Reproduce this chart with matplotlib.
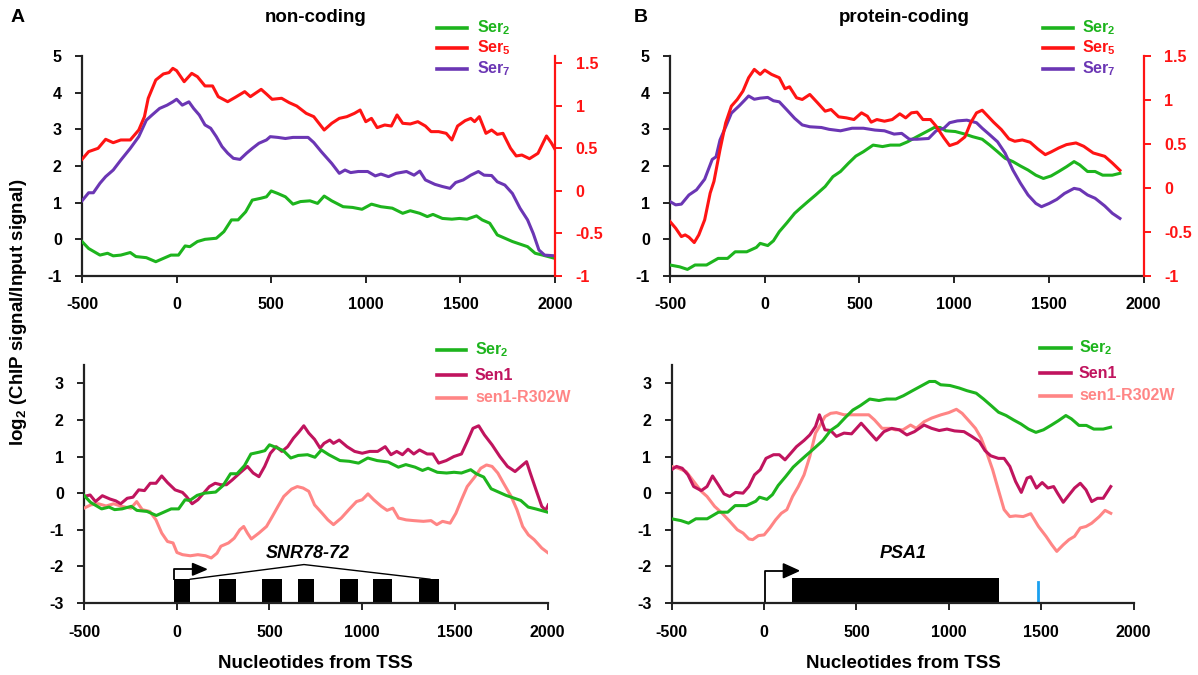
import numpy as np
import matplotlib
matplotlib.use("Agg")
import matplotlib.pyplot as plt
from matplotlib.lines import Line2D
from matplotlib.patches import Rectangle, Polygon

plt.rcParams['font.family'] = ['Liberation Sans', 'DejaVu Sans']
plt.rcParams['font.weight'] = 'bold'
plt.rcParams['mathtext.fontset'] = 'custom'
plt.rcParams['mathtext.rm'] = 'Liberation Sans:bold'
plt.rcParams['mathtext.it'] = 'Liberation Sans:bold'
plt.rcParams['mathtext.bf'] = 'Liberation Sans:bold'
plt.rcParams['mathtext.default'] = 'rm'
plt.rcParams['axes.unicode_minus'] = False

# ---- colours ----
GREEN = '#1db41d'
RED = '#ff1414'
PURPLE = '#6b36b4'
SEN1 = '#c0145e'
MUT = '#ff8585'
AXC = '#222222'

# ---- A: non-coding, top (Ser2 / Ser7 on left axis, Ser5 on right axis) ----
nc_ser2_x = [-500, -465, -405, -365, -335, -295, -245, -215, -160, -110, -70, -30, 10, 45, 70, 110, 150, 210,
             250, 290, 325, 365, 400, 445, 475, 500, 535, 575, 615, 655, 705, 745, 780, 820, 880, 930, 980,
             1030, 1080, 1140, 1195, 1235, 1285, 1325, 1355, 1405, 1455, 1495, 1535, 1585, 1615, 1655, 1695,
             1735, 1775, 1815, 1855, 1895, 1935, 2000]
nc_ser2_y = [-0.06, -0.25, -0.43, -0.38, -0.45, -0.43, -0.36, -0.47, -0.50, -0.61, -0.52, -0.43, -0.43, -0.18,
             -0.20, -0.06, 0.00, 0.03, 0.21, 0.53, 0.53, 0.75, 1.07, 1.12, 1.16, 1.32, 1.25, 1.16, 0.96, 1.03,
             1.05, 0.98, 1.18, 1.05, 0.89, 0.87, 0.82, 0.96, 0.89, 0.85, 0.71, 0.78, 0.71, 0.62, 0.68, 0.57,
             0.55, 0.57, 0.55, 0.64, 0.53, 0.44, 0.12, 0.03, -0.06, -0.13, -0.20, -0.38, -0.43, -0.52]

nc_ser7_x = [-500, -465, -440, -405, -375, -335, -295, -245, -200, -160, -130, -90, -50, -20, 0, 30, 65, 90,
             120, 150, 180, 210, 240, 270, 300, 335, 370, 400, 435, 475, 495, 535, 575, 615, 655, 695, 725,
             765, 820, 860, 890, 920, 960, 1010, 1050, 1080, 1120, 1160, 1215, 1255, 1285, 1315, 1365, 1405,
             1445, 1475, 1515, 1555, 1595, 1625, 1665, 1695, 1735, 1775, 1815, 1855, 1885, 1915, 1945, 2000]
nc_ser7_y = [1.05, 1.27, 1.27, 1.53, 1.71, 1.89, 2.16, 2.48, 2.80, 3.25, 3.39, 3.57, 3.66, 3.75, 3.82, 3.66,
             3.75, 3.57, 3.39, 3.12, 3.03, 2.80, 2.53, 2.35, 2.21, 2.18, 2.35, 2.48, 2.62, 2.71, 2.80, 2.78,
             2.75, 2.78, 2.78, 2.78, 2.64, 2.39, 2.07, 1.80, 1.89, 1.82, 1.85, 1.85, 1.73, 1.78, 1.71, 1.80,
             1.85, 1.75, 1.86, 1.62, 1.50, 1.44, 1.39, 1.55, 1.62, 1.75, 1.85, 1.75, 1.74, 1.57, 1.48, 1.25,
             0.85, 0.53, 0.16, -0.29, -0.43, -0.45]

nc_ser5_x = [-500, -465, -415, -375, -335, -295, -245, -200, -170, -150, -110, -70, -40, -20, 0, 40, 80, 110,
             150, 190, 220, 270, 310, 360, 390, 447, 475, 505, 555, 595, 635, 685, 725, 780, 820, 860, 900,
             940, 970, 1000, 1030, 1060, 1100, 1135, 1165, 1195, 1235, 1275, 1315, 1345, 1385, 1425, 1455,
             1485, 1525, 1555, 1575, 1600, 1635, 1665, 1695, 1725, 1765, 1795, 1825, 1865, 1910, 1940, 1955,
             1980, 2000]
nc_ser5_y = [0.371, 0.462, 0.501, 0.607, 0.567, 0.599, 0.599, 0.716, 0.873, 1.089, 1.304, 1.375, 1.391,
             1.441, 1.414, 1.284, 1.382, 1.343, 1.234, 1.234, 1.108, 1.049, 1.100, 1.167, 1.108, 1.194, 1.139,
             1.077, 1.089, 1.038, 0.998, 0.912, 0.873, 0.716, 0.795, 0.853, 0.873, 0.912, 0.951, 0.814, 0.853,
             0.744, 0.775, 0.763, 0.893, 0.795, 0.787, 0.814, 0.763, 0.697, 0.697, 0.677, 0.599, 0.763, 0.826,
             0.853, 0.814, 0.873, 0.677, 0.716, 0.665, 0.677, 0.501, 0.411, 0.422, 0.379, 0.442, 0.579, 0.646,
             0.567, 0.489]

# ---- B: protein-coding, top ----
pc_ser2_x = [-500, -449, -408, -368, -307, -246, -196, -156, -95, -44, -24, 16, 46, 77, 117, 158, 188, 228,
             269, 319, 360, 400, 441, 481, 521, 572, 622, 663, 713, 754, 804, 855, 895, 926, 956, 1006, 1057,
             1097, 1148, 1188, 1229, 1269, 1310, 1350, 1390, 1431, 1471, 1512, 1552, 1593, 1633, 1663, 1704,
             1744, 1784, 1835, 1875]
pc_ser2_y = [-0.70, -0.75, -0.82, -0.70, -0.70, -0.52, -0.52, -0.34, -0.34, -0.22, -0.11, -0.17, -0.04, 0.21,
             0.45, 0.71, 0.85, 1.03, 1.21, 1.44, 1.71, 1.85, 2.07, 2.27, 2.39, 2.57, 2.53, 2.57, 2.57, 2.66,
             2.80, 2.94, 3.05, 3.05, 2.96, 2.94, 2.87, 2.80, 2.73, 2.57, 2.39, 2.21, 2.12, 2.00, 1.89, 1.75,
             1.66, 1.73, 1.85, 1.98, 2.12, 2.03, 1.85, 1.85, 1.75, 1.75, 1.80]

pc_ser7_x = [-500, -470, -440, -400, -360, -317, -277, -257, -236, -206, -176, -135, -105, -85, -55, -24, 16,
             46, 77, 117, 158, 198, 238, 299, 340, 400, 461, 521, 582, 632, 683, 723, 764, 804, 865, 905, 946,
             976, 1017, 1067, 1118, 1148, 1188, 1229, 1269, 1310, 1350, 1390, 1431, 1461, 1502, 1542, 1582,
             1633, 1663, 1704, 1744, 1795, 1835, 1875]
pc_ser7_y = [1.03, 0.94, 0.96, 1.21, 1.35, 1.64, 2.18, 2.25, 2.71, 3.07, 3.44, 3.64, 3.80, 3.91, 3.82, 3.85,
             3.87, 3.78, 3.75, 3.53, 3.30, 3.12, 3.07, 3.05, 3.00, 2.96, 3.03, 3.03, 2.98, 2.96, 2.87, 2.89,
             2.73, 2.73, 2.75, 2.96, 3.03, 3.18, 3.23, 3.25, 3.18, 3.03, 2.85, 2.66, 2.35, 1.89, 1.53, 1.21,
             0.98, 0.89, 0.98, 1.09, 1.25, 1.39, 1.36, 1.21, 1.12, 0.91, 0.71, 0.57]

pc_ser5_x = [-500, -470, -440, -420, -400, -372, -348, -317, -288, -268, -236, -206, -176, -145, -115, -85,
             -55, -24, 0, 36, 77, 107, 131, 168, 198, 238, 279, 319, 350, 390, 431, 471, 511, 542, 562, 592,
             632, 673, 713, 744, 774, 804, 835, 875, 905, 946, 976, 1017, 1057, 1087, 1118, 1148, 1178, 1208,
             1249, 1289, 1320, 1360, 1401, 1441, 1481, 1512, 1552, 1593, 1643, 1684, 1734, 1795, 1835, 1875]
pc_ser5_y = [-0.381, -0.457, -0.552, -0.533, -0.559, -0.620, -0.533, -0.362, -0.058, 0.075, 0.436, 0.740,
             0.930, 1.006, 1.101, 1.253, 1.348, 1.291, 1.340, 1.291, 1.253, 1.128, 1.150, 1.025, 1.006, 1.063,
             0.968, 0.873, 0.892, 0.809, 0.797, 0.778, 0.854, 0.816, 0.748, 0.778, 0.759, 0.778, 0.843, 0.797,
             0.854, 0.862, 0.778, 0.778, 0.702, 0.569, 0.482, 0.512, 0.581, 0.740, 0.854, 0.884, 0.816, 0.748,
             0.664, 0.558, 0.531, 0.546, 0.520, 0.444, 0.379, 0.410, 0.455, 0.493, 0.512, 0.474, 0.398, 0.360,
             0.284, 0.201]

# ---- bottom panels: Sen1 and sen1-R302W ----
nc_sen1_x = [-500, -467, -438, -401, -360, -329, -302, -267, -236, -205, -174, -143, -112, -81, -50, -9, 31,
             52, 83, 114, 145, 176, 207, 238, 268, 299, 340, 381, 412, 443, 474, 505, 536, 567, 598, 629, 660,
             685, 712, 743, 773, 794, 825, 845, 876, 918, 959, 1000, 1041, 1083, 1124, 1155, 1186, 1217, 1247,
             1278, 1309, 1350, 1381, 1412, 1453, 1494, 1535, 1566, 1597, 1628, 1659, 1700, 1742, 1783, 1824,
             1865, 1886, 1906, 1937, 1968, 1989, 2003]
nc_sen1_y = [-0.09, -0.05, -0.23, -0.07, -0.16, -0.21, -0.29, -0.14, -0.11, 0.09, 0.07, 0.27, 0.27, 0.47,
             0.29, 0.09, 0.02, -0.09, -0.29, -0.18, 0.00, 0.18, 0.27, 0.23, 0.23, 0.36, 0.55, 0.73, 0.55, 0.45,
             0.73, 1.09, 1.27, 1.14, 1.27, 1.50, 1.68, 1.84, 1.64, 1.47, 1.23, 1.36, 1.45, 1.36, 1.45, 1.27,
             1.14, 1.09, 1.14, 1.14, 1.27, 1.05, 1.14, 1.05, 1.20, 1.07, 1.18, 1.07, 1.07, 0.82, 0.89, 1.00,
             1.07, 1.41, 1.77, 1.84, 1.59, 1.32, 1.00, 0.73, 0.59, 0.77, 0.86, 0.55, 0.09, -0.36, -0.47, -0.32]

nc_mut_x = [-500, -463, -422, -381, -340, -298, -247, -216, -186, -145, -112, -81, -50, -20, 1, 31, 73, 114,
            155, 186, 217, 238, 279, 310, 340, 361, 381, 402, 443, 484, 515, 546, 577, 619, 650, 681, 712, 743,
            784, 815, 845, 887, 928, 969, 1000, 1031, 1062, 1103, 1134, 1165, 1196, 1237, 1278, 1330, 1371,
            1402, 1433, 1474, 1505, 1535, 1566, 1608, 1639, 1670, 1700, 1731, 1762, 1803, 1834, 1865, 1896,
            1927, 1968, 1999]
nc_mut_y = [-0.41, -0.32, -0.29, -0.35, -0.29, -0.36, -0.41, -0.23, -0.45, -0.50, -0.73, -1.09, -1.32, -1.36,
            -1.62, -1.68, -1.71, -1.68, -1.71, -1.77, -1.64, -1.45, -1.36, -1.23, -1.00, -0.91, -1.09, -1.25,
            -1.09, -0.91, -0.64, -0.36, -0.09, 0.11, 0.18, 0.14, 0.05, -0.32, -0.55, -0.73, -0.86, -0.68,
            -0.45, -0.23, -0.18, -0.02, -0.18, -0.36, -0.47, -0.41, -0.68, -0.73, -0.75, -0.77, -0.75, -0.86,
            -0.77, -0.82, -0.55, -0.18, 0.18, 0.45, 0.68, 0.77, 0.73, 0.55, 0.27, -0.09, -0.45, -0.91, -1.14,
            -1.27, -1.50, -1.62]

pc_sen1_x = [-500, -473, -442, -411, -380, -339, -308, -278, -247, -216, -185, -154, -113, -82, -51, -20, 11,
             52, 83, 114, 145, 176, 217, 248, 279, 300, 330, 361, 392, 433, 474, 526, 567, 608, 649, 691, 732,
             773, 814, 866, 907, 948, 990, 1031, 1082, 1124, 1165, 1196, 1227, 1268, 1299, 1330, 1361, 1392,
             1423, 1443, 1474, 1505, 1536, 1567, 1588, 1619, 1650, 1680, 1711, 1742, 1773, 1804, 1835, 1876]
pc_sen1_y = [0.64, 0.73, 0.68, 0.50, 0.18, 0.07, 0.18, 0.47, 0.23, -0.02, -0.09, 0.02, 0.00, 0.18, 0.50, 0.64,
             0.95, 1.05, 1.05, 0.91, 1.09, 1.27, 1.44, 1.59, 1.82, 2.14, 1.73, 1.71, 1.55, 1.64, 1.62, 1.91,
             1.68, 1.45, 1.68, 1.77, 1.73, 1.59, 1.68, 1.86, 1.77, 1.71, 1.75, 1.70, 1.68, 1.55, 1.41, 1.16,
             1.02, 0.95, 0.95, 0.73, 0.32, 0.02, 0.41, 0.45, 0.14, 0.29, 0.14, 0.18, 0.00, -0.25, -0.05, 0.14,
             0.27, 0.09, -0.23, -0.14, -0.14, 0.18]

pc_mut_x = [-500, -463, -421, -380, -339, -308, -267, -226, -185, -144, -113, -82, -61, -30, 1, 32, 63, 94,
            124, 155, 186, 217, 248, 279, 300, 330, 361, 392, 433, 474, 526, 567, 598, 639, 680, 711, 752, 793,
            824, 866, 907, 958, 1000, 1041, 1072, 1113, 1144, 1175, 1206, 1237, 1268, 1299, 1330, 1361, 1402,
            1443, 1485, 1526, 1557, 1584, 1619, 1650, 1680, 1711, 1742, 1773, 1814, 1845, 1876]
pc_mut_y = [0.73, 0.68, 0.59, 0.32, 0.05, -0.09, -0.36, -0.55, -0.77, -1.00, -1.09, -1.25, -1.27, -1.16,
            -1.14, -0.95, -0.73, -0.55, -0.45, -0.09, 0.18, 0.50, 1.00, 1.64, 1.82, 2.09, 2.18, 2.20, 2.14,
            2.14, 2.14, 2.14, 2.00, 1.77, 1.77, 1.73, 1.73, 1.86, 1.77, 1.95, 2.05, 2.14, 2.20, 2.29, 2.18,
            1.95, 1.77, 1.50, 1.09, 0.64, 0.09, -0.45, -0.64, -0.62, -0.64, -0.56, -0.91, -1.18, -1.41, -1.59,
            -1.41, -1.27, -1.18, -0.95, -0.91, -0.82, -0.64, -0.47, -0.55]

# ---- gene models ----
snr_exons = [(-15, 73), (229, 318), (457, 565), (655, 740), (880, 975), (1056, 1160), (1306, 1413)]
snr_intron_x = [73, 686, 1365]
snr_intron_y = [-2.35, -1.95, -2.35]
psa1_cds = (152, 1272)
term_site = 1480

xticks = [-500, 0, 500, 1000, 1500, 2000]

W, H = 1198, 675
fig = plt.figure(figsize=(W / 100, H / 100), dpi=100)


def fx(px):
    return px / W


def fy(py):
    return 1 - py / H


def make_ax(l, r, t, b):
    return fig.add_axes([fx(l), fy(b), fx(r) - fx(l), fy(t) - fy(b)])


def style_ax(ax, ylim, yticks, xpad):
    ax.set_xlim(-500, 2000)
    ax.set_ylim(*ylim)
    ax.set_xticks(xticks)
    ax.set_yticks(yticks)
    for s in ['top', 'right']:
        ax.spines[s].set_visible(False)
    for s in ['left', 'bottom']:
        ax.spines[s].set_linewidth(1.6)
        ax.spines[s].set_color(AXC)
    ax.tick_params(axis='both', direction='out', length=5, width=1.4, color=AXC,
                   labelsize=11.5, labelcolor='black')
    ax.tick_params(axis='x', pad=xpad)
    ax.tick_params(axis='y', pad=9.5)
    ax.patch.set_alpha(0)


def red_axis(ax, top):
    tw = ax.twinx()
    tw.set_ylim(-1, top)
    tw.set_yticks([-1, -0.5, 0, 0.5, 1, 1.5])
    tw.set_yticklabels(['-1', '-0.5', '0', '0.5', '1', '1.5'])
    for s in ['top', 'left', 'bottom']:
        tw.spines[s].set_visible(False)
    tw.spines['right'].set_color(RED)
    tw.spines['right'].set_linewidth(1.6)
    tw.tick_params(axis='y', direction='out', length=5, width=1.4, color=RED,
                   labelcolor=RED, labelsize=11.5, pad=10)
    return tw


def legend_rows(x0, x1, xt, ys, labels, colors):
    for y, lab, c in zip(ys, labels, colors):
        fig.add_artist(Line2D([fx(x0), fx(x1)], [fy(y), fy(y)], color=c, lw=2.6))
        fig.text(fx(xt), fy(y), lab, color=c, fontsize=11.5, fontweight='bold',
                 ha='left', va='center')


LW = 2.2

# top-left
ax1 = make_ax(82, 555, 56, 276)
style_ax(ax1, (-1, 5), [-1, 0, 1, 2, 3, 4, 5], 10)
t1 = red_axis(ax1, 1.586)
ax1.plot(nc_ser2_x, nc_ser2_y, color=GREEN, lw=LW, zorder=3)
ax1.plot(nc_ser7_x, nc_ser7_y, color=PURPLE, lw=LW, zorder=3)
t1.plot(nc_ser5_x, nc_ser5_y, color=RED, lw=LW, zorder=3)

# top-right
ax2 = make_ax(670, 1143.6, 56, 276)
style_ax(ax2, (-1, 5), [-1, 0, 1, 2, 3, 4, 5], 10)
t2 = red_axis(ax2, 1.5)
ax2.plot(pc_ser2_x, pc_ser2_y, color=GREEN, lw=LW, zorder=3)
ax2.plot(pc_ser7_x, pc_ser7_y, color=PURPLE, lw=LW, zorder=3)
t2.plot(pc_ser5_x, pc_ser5_y, color=RED, lw=LW, zorder=3)

# bottom-left
ax3 = make_ax(84, 547.7, 365, 603)
style_ax(ax3, (-3, 3.5), [-3, -2, -1, 0, 1, 2, 3], 11)
ax3.plot(nc_mut_x, nc_mut_y, color=MUT, lw=LW, zorder=3)
ax3.plot(nc_sen1_x, nc_sen1_y, color=SEN1, lw=LW, zorder=3)
ax3.plot(nc_ser2_x, nc_ser2_y, color=GREEN, lw=LW, zorder=4)
for a, b in snr_exons:
    ax3.add_patch(Rectangle((a, -3), b - a, 0.65, color='black', lw=0, zorder=2))
ax3.plot(snr_intron_x, snr_intron_y, color='black', lw=1.0, zorder=2)
ax3.plot([snr_exons[0][0], snr_exons[0][0], 85], [-2.35, -2.08, -2.08], color='black', lw=1.3, zorder=2)
ax3.add_patch(Polygon([[85, -1.92], [85, -2.24], [160, -2.08]], closed=True, color='black', zorder=2))
ax3.text(708, -1.64, 'SNR78-72', fontsize=13, fontweight='bold', style='italic', ha='center', va='center')

# bottom-right
ax4 = make_ax(671.5, 1133.7, 365, 603)
style_ax(ax4, (-3, 3.5), [-3, -2, -1, 0, 1, 2, 3], 11)
ax4.plot(pc_mut_x, pc_mut_y, color=MUT, lw=LW, zorder=3)
ax4.plot(pc_sen1_x, pc_sen1_y, color=SEN1, lw=LW, zorder=3)
ax4.plot(pc_ser2_x, pc_ser2_y, color=GREEN, lw=LW, zorder=4)
ax4.add_patch(Rectangle((psa1_cds[0], -3), psa1_cds[1] - psa1_cds[0], 0.67, color='black', lw=0, zorder=2))
ax4.plot([5, 5, 105], [-3, -2.12, -2.12], color='black', lw=1.3, zorder=2)
ax4.add_patch(Polygon([[105, -1.93], [105, -2.31], [188, -2.12]], closed=True, color='black', zorder=2))
ax4.plot([term_site, term_site], [-3, -2.42], color='#1aa0f0', lw=2.0, zorder=2)
ax4.text(753, -1.64, 'PSA1', fontsize=13, fontweight='bold', style='italic', ha='center', va='center')

# x labels
fig.text(fx(315), fy(664), 'Nucleotides from TSS', fontsize=13.5, fontweight='bold', ha='center', va='center')
fig.text(fx(903), fy(664), 'Nucleotides from TSS', fontsize=13.5, fontweight='bold', ha='center', va='center')

# y label
fig.text(fx(19), fy(312), r'log$_2$ (ChIP signal/Input signal)', fontsize=13.5, fontweight='bold',
         rotation=90, ha='center', va='center')

# titles and panel letters
fig.text(fx(18), fy(18), 'A', fontsize=14, fontweight='bold', ha='center', va='center')
fig.text(fx(641), fy(18), 'B', fontsize=14, fontweight='bold', ha='center', va='center')
fig.text(fx(316), fy(18), 'non-coding', fontsize=13.5, fontweight='bold', ha='center', va='center')
fig.text(fx(904), fy(18), 'protein-coding', fontsize=13.5, fontweight='bold', ha='center', va='center')

# legends
ser_labels = [r'Ser$_2$', r'Ser$_5$', r'Ser$_7$']
ser_colors = [GREEN, RED, PURPLE]
sen_labels = [r'Ser$_2$', 'Sen1', 'sen1-R302W']
sen_colors = [GREEN, SEN1, MUT]
legend_rows(437, 467, 477, [28, 48, 69], ser_labels, ser_colors)
legend_rows(1043, 1073, 1082, [28, 48, 69], ser_labels, ser_colors)
legend_rows(437, 466, 475, [350, 375, 398], sen_labels, sen_colors)
legend_rows(1040, 1071, 1079, [348, 373, 396], sen_labels, sen_colors)

fig.savefig('out.png', dpi=100)
